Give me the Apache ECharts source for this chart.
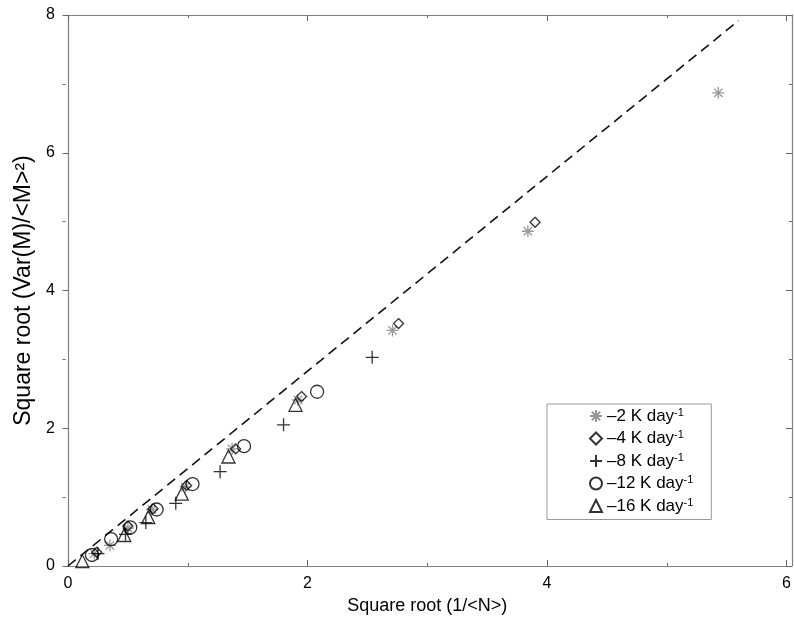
<!DOCTYPE html>
<html>
<head>
<meta charset="utf-8">
<script src="https://cdn.jsdelivr.net/npm/echarts@6/dist/echarts.min.js"></script>
<style>html,body{margin:0;padding:0;background:#fff}#c{width:794px;height:625px}</style>
</head>
<body>
<div id="c"></div>
<script>
// Data
const seriesNames = ['–2 K day', '–4 K day', '–8 K day', '–12 K day', '–16 K day'];
const m2 = [[0.22,0.18],[0.35,0.30],[0.50,0.55],[0.70,0.82],[0.98,1.15],[1.37,1.70],[1.92,2.41],[2.71,3.42],[3.84,4.86],[5.43,6.87]];
const m4 = [[0.24,0.20],[0.50,0.58],[0.71,0.83],[0.99,1.17],[1.40,1.70],[1.95,2.46],[2.76,3.52],[3.90,4.99]];
const m8 = [[0.25,0.18],[0.48,0.46],[0.65,0.63],[0.90,0.91],[1.27,1.37],[1.80,2.05],[2.54,3.03]];
const m12 = [[0.20,0.16],[0.36,0.39],[0.52,0.56],[0.74,0.82],[1.04,1.19],[1.47,1.74],[2.08,2.53]];
const m16 = [[0.12,0.07],[0.47,0.45],[0.67,0.71],[0.95,1.05],[1.34,1.59],[1.90,2.34]];
const refLine = [[0,0],[5.6,7.92]];
const xTicks = [0,2,4,6];
const yTicks = [0,2,4,6,8];

const font = 'Liberation Sans, Arial, Helvetica, sans-serif';
const asterisk = 'path://M5 0 L5 10 M0 5 L10 5 M1.5 1.5 L8.5 8.5 M8.5 1.5 L1.5 8.5';
const plus = 'path://M5 0 L5 10 M0 5 L10 5';
const hollow = 'rgba(0,0,0,0)';

const GRID = {left: 68, right: 2, top: 15, bottom: 59};
const PW = 794 - GRID.left - GRID.right;
const PH = 625 - GRID.top - GRID.bottom;

const lineSt = {color: '#808080', width: 1.2};
const tickSt = {color: '#666', width: 1};

// axis placed on the opposite edge via offset so its ticks point into the plot
function tickAxis(max, position, offset, showLine) {
  return {
    type: 'value', min: 0, max: max, interval: 2, position: position, offset: offset,
    axisLine: {show: showLine, onZero: false, lineStyle: lineSt},
    axisTick: {show: true, length: 6, lineStyle: tickSt},
    minorTick: {show: true, splitNumber: 2, length: 3, lineStyle: tickSt},
    splitLine: {show: false},
    axisLabel: {show: false}
  };
}

const chart = echarts.init(document.getElementById('c'), null, {renderer: 'canvas'});
const sc = (name, data, symbol, size, color) => ({
  name, type: 'scatter', data, symbol, symbolSize: size,
  itemStyle: {color: hollow, borderColor: color, borderWidth: 1.3},
  z: 3
});
chart.setOption({
  backgroundColor: '#fff',
  animation: false,
  grid: GRID,
  xAxis: [
    {
      type: 'value', min: 0, max: 6, interval: 2, position: 'bottom',
      axisLine: {show: true, onZero: false, lineStyle: lineSt},
      axisTick: {show: false}, splitLine: {show: false},
      axisLabel: {color: '#000', fontFamily: font, fontSize: 16, margin: 10,
        formatter: v => xTicks.includes(v) ? String(v) : ''},
      name: 'Square root (1/<N>)', nameLocation: 'middle', nameGap: 28,
      nameTextStyle: {fontFamily: font, fontSize: 18, color: '#000'}
    },
    tickAxis(6, 'top', -PH, false),     // on bottom edge, ticks point up
    tickAxis(6, 'bottom', -PH, true)    // on top edge, ticks point down
  ],
  yAxis: [
    {
      type: 'value', min: 0, max: 8, interval: 2, position: 'left',
      axisLine: {show: true, onZero: false, lineStyle: lineSt},
      axisTick: {show: false}, splitLine: {show: false},
      axisLabel: {color: '#000', fontFamily: font, fontSize: 16, margin: 13,
        formatter: v => yTicks.includes(v) ? String(v) : ''},
      name: 'Square root (Var(M)/<M>²)', nameLocation: 'middle', nameGap: 25,
      nameTextStyle: {fontFamily: font, fontSize: 23, color: '#000'}
    },
    tickAxis(8, 'right', -PW, false),   // on left edge, ticks point right
    tickAxis(8, 'left', -PW, true)      // on right edge, ticks point left
  ],
  legend: {
    left: 547, top: 404, orient: 'vertical',
    data: seriesNames,
    borderColor: '#999', borderWidth: 1,
    padding: [3, 18, 5, 42],
    itemWidth: 12, itemHeight: 12, itemGap: 5,
    backgroundColor: '#fff',
    formatter: n => '{a|' + n + '}{s|-1}',
    textStyle: {
      fontFamily: font, fontSize: 17, color: '#000',
      rich: {
        a: {fontFamily: font, fontSize: 17, color: '#000', lineHeight: 18},
        s: {fontFamily: font, fontSize: 11, color: '#000', lineHeight: 11, verticalAlign: 'top'}
      }
    }
  },
  series: [
    {
      name: 'ref', type: 'line', data: refLine, showSymbol: false, symbol: 'none',
      lineStyle: {color: '#111', width: 1.6, type: [10, 6]}, z: 2, silent: true
    },
    sc(seriesNames[0], m2, asterisk, 12, '#808080'),
    sc(seriesNames[1], m4, 'diamond', 10, '#000'),
    sc(seriesNames[2], m8, plus, 13, '#000'),
    sc(seriesNames[3], m12, 'circle', 13, '#000'),
    sc(seriesNames[4], m16, 'triangle', 13, '#000')
  ]
});
</script>
</body>
</html>
